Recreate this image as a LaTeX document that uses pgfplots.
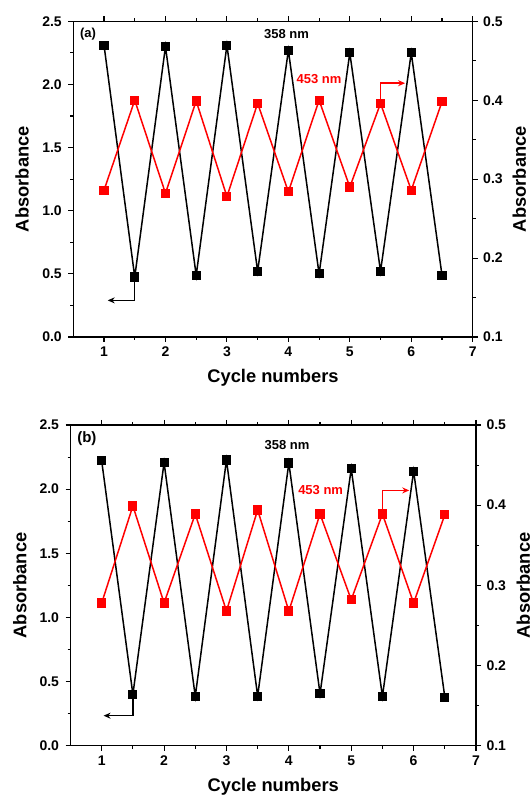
\documentclass[border=0pt]{standalone}
\usepackage{fontspec}
\setmainfont{Liberation Sans}
\usepackage{pgfplots}
\pgfplotsset{compat=1.18}
\usetikzlibrary{arrows.meta}

\tikzset{ann/.style={font=\bfseries\fontsize{13}{14}\selectfont}}
\pgfplotsset{
 common/.style={
  scale only axis,
  xmin=0.5, xmax=7,
  tick align=outside,
  major tick length=5pt, minor tick length=3pt,
  every tick/.style={black, line width=1.1pt},
  axis line style={line width=1.4pt},
  /pgf/number format/assume math mode=true,
  tick label style={font=\bfseries\fontsize{14}{15}\selectfont},
  label style={font=\bfseries\fontsize{18.3}{19}\selectfont},
  yticklabel style={/pgf/number format/fixed, /pgf/number format/fixed zerofill, /pgf/number format/precision=1},
 },
 leftax/.style={common, ymin=0, ymax=2.5,
  ytick={0,0.5,1,1.5,2,2.5}, minor ytick={0.25,0.75,1.25,1.75,2.25},
  xtick={1,2,3,4,5,6,7}, minor xtick={1.5,2.5,3.5,4.5,5.5,6.5},
  xtick pos=both, ytick pos=left,
  xlabel={Cycle numbers}, ylabel={Absorbance},
  xticklabel style={/pgf/number format/precision=0, yshift=-1.5pt},
  yticklabel style={xshift=-3pt},
  xlabel style={at={(axis description cs:0.5,-0.144)}, anchor=base},
 },
 rightax/.style={common, ymin=0.1, ymax=0.5,
  ytick={0.1,0.2,0.3,0.4,0.5}, minor ytick={0.15,0.25,0.35,0.45},
  axis x line=none, axis y line*=right, ylabel={Absorbance},
  yticklabel style={xshift=2pt},
 },
 blk/.style={black, line width=1.5pt, mark=square*, mark size=3.8pt, mark options={solid}},
 rd/.style={red, line width=1.5pt, mark=square*, mark size=3.8pt, mark options={solid}},
}

\pgfplotstableread{
x y
1 2.31
1.5 0.475
2 2.30
2.5 0.488
3 2.31
3.5 0.52
4 2.27
4.5 0.50
5 2.25
5.5 0.52
6 2.25
6.5 0.49
}\blackA
\pgfplotstableread{
x y
1 0.286
1.5 0.400
2 0.282
2.5 0.399
3 0.278
3.5 0.396
4 0.284
4.5 0.400
5 0.290
5.5 0.396
6 0.286
6.5 0.398
}\redA
\pgfplotstableread{
x y
1 2.22
1.5 0.40
2 2.207
2.5 0.384
3 2.227
3.5 0.387
4 2.204
4.5 0.405
5 2.16
5.5 0.384
6 2.14
6.5 0.379
}\blackB
\pgfplotstableread{
x y
1 0.278
1.5 0.399
2 0.278
2.5 0.389
3 0.268
3.5 0.394
4 0.268
4.5 0.389
5 0.282
5.5 0.389
6 0.278
6.5 0.388
}\redB

\begin{document}
\begin{tikzpicture}
\useasboundingbox (0,0) rectangle (530pt,795pt);
% ---------- panel (a)
\begin{axis}[leftax, width=399.4pt, height=315.7pt, at={(73.3pt,458pt)}, anchor=south west,
  ylabel style={at={(axis description cs:-0.128,0.5)}, anchor=center}]
\addplot[blk] table[x=x,y=y] {\blackA};
\node[anchor=north west, font=\bfseries\fontsize{13}{14}\selectfont] at (rel axis cs:0.008,0.99) {(a)};
\node[ann] at (axis cs:3.97,2.40) {358 nm};
\node[ann, red] at (axis cs:4.5,2.04) {453 nm};
\draw[red, line width=1.4pt, -{Stealth[length=7pt,width=6pt]}] (axis cs:5.5,1.85) -- (axis cs:5.5,2.01) -- (axis cs:5.9,2.01);
\draw[black, line width=1.4pt, -{Stealth[length=7pt,width=6pt]}] (axis cs:1.5,0.45) -- (axis cs:1.5,0.29) -- (axis cs:1.06,0.29);
\end{axis}
\begin{axis}[rightax, width=399.4pt, height=315.7pt, at={(73.3pt,458pt)}, anchor=south west,
  ylabel style={at={(axis description cs:1.117,0.5)}, anchor=center}]
\addplot[rd] table[x=x,y=y] {\redA};
\end{axis}
% ---------- panel (b)
\begin{axis}[leftax, width=405.5pt, height=320.7pt, at={(70.5pt,49.3pt)}, anchor=south west,
  ylabel style={at={(axis description cs:-0.125,0.5)}, anchor=center}]
\addplot[blk] table[x=x,y=y] {\blackB};
\node[anchor=north west, font=\bfseries\fontsize{15}{16}\selectfont] at (rel axis cs:0.008,0.99) {(b)};
\node[ann] at (axis cs:3.97,2.34) {358 nm};
\node[ann, red] at (axis cs:4.51,1.99) {453 nm};
\draw[red, line width=1.4pt, -{Stealth[length=7pt,width=6pt]}] (axis cs:5.5,1.81) -- (axis cs:5.5,1.99) -- (axis cs:5.93,1.99);
\draw[black, line width=1.4pt, -{Stealth[length=7pt,width=6pt]}] (axis cs:1.5,0.40) -- (axis cs:1.5,0.234) -- (axis cs:1.03,0.234);
\end{axis}
\begin{axis}[rightax, width=405.5pt, height=320.7pt, at={(70.5pt,49.3pt)}, anchor=south west,
  ylabel style={at={(axis description cs:1.117,0.5)}, anchor=center}]
\addplot[rd] table[x=x,y=y] {\redB};
\end{axis}
\end{tikzpicture}
\end{document}
